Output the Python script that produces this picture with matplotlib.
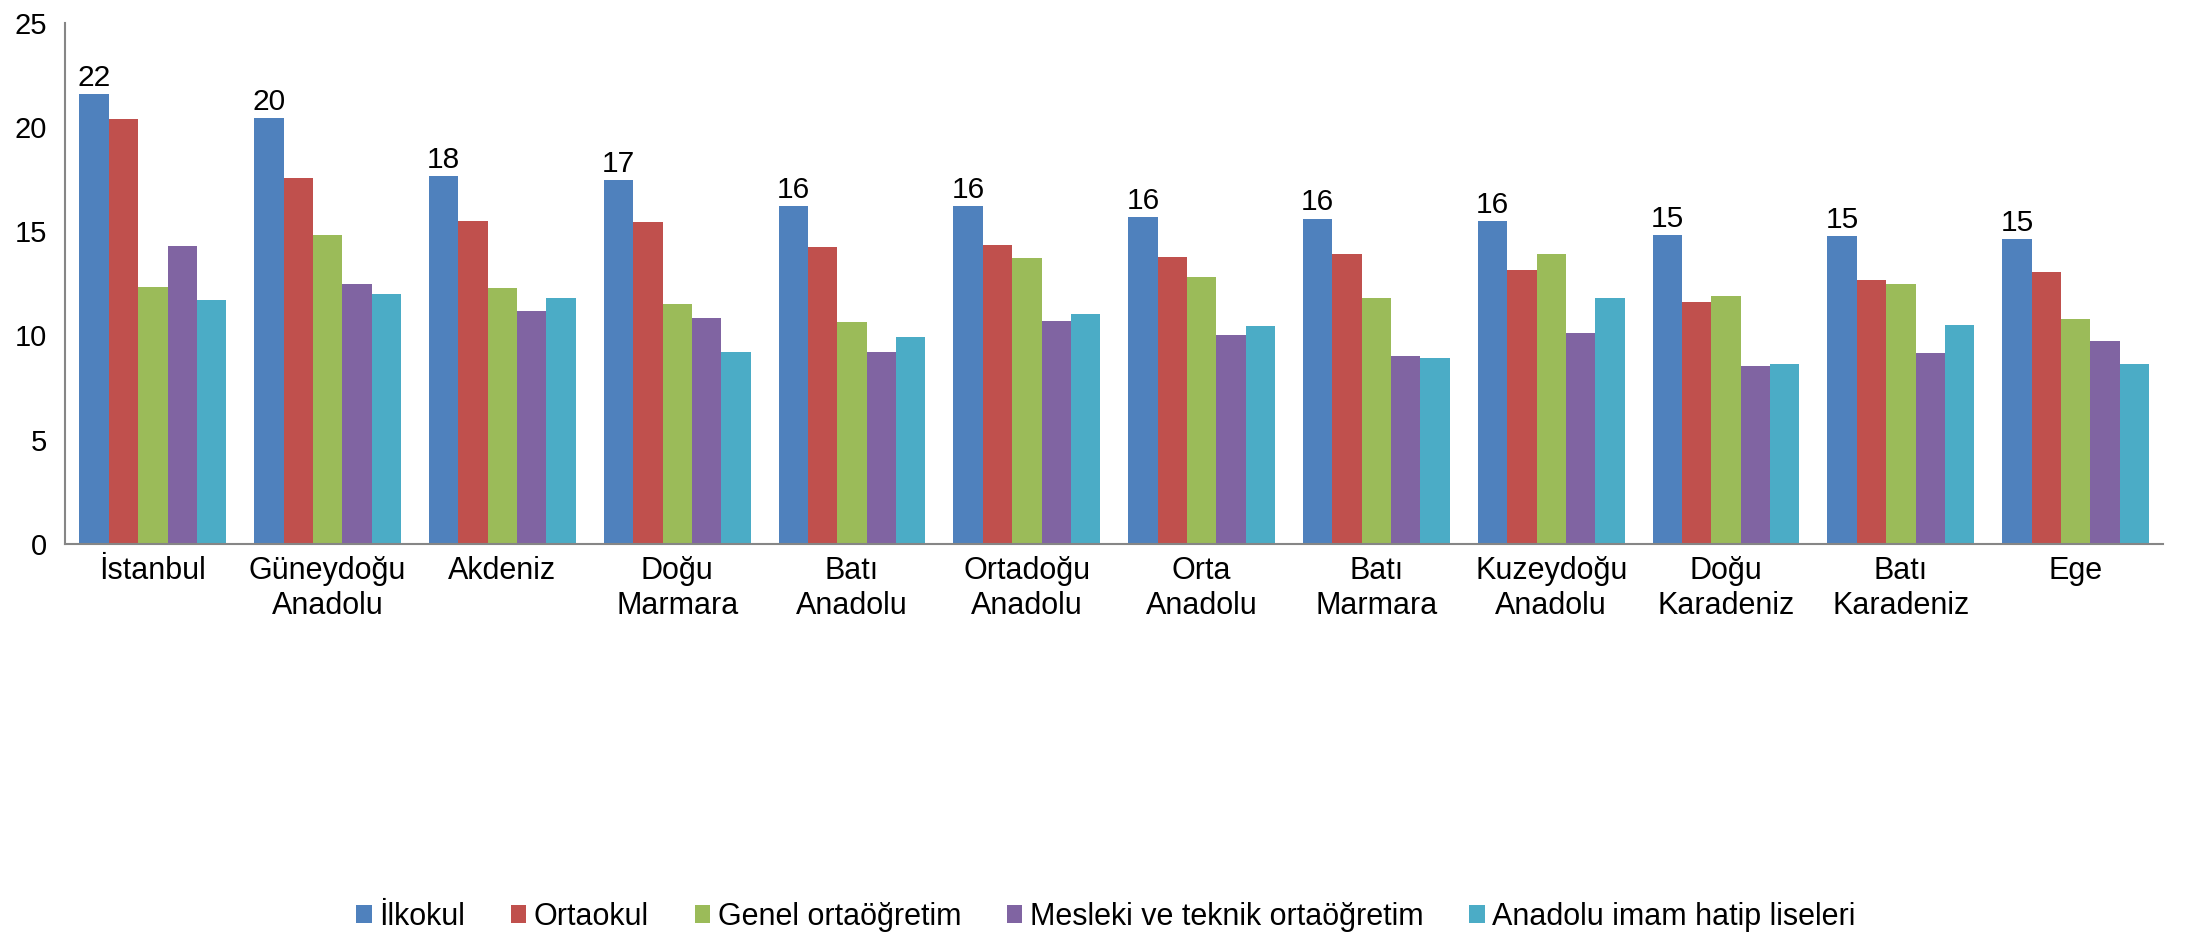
import numpy as np
import matplotlib.pyplot as plt

plt.rcParams['font.family'] = ['Liberation Sans', 'DejaVu Sans']

regions = ['İstanbul', 'Güneydoğu\nAnadolu', 'Akdeniz', 'Doğu\nMarmara', 'Batı\nAnadolu',
           'Ortadoğu\nAnadolu', 'Orta\nAnadolu', 'Batı\nMarmara', 'Kuzeydoğu\nAnadolu',
           'Doğu\nKaradeniz', 'Batı\nKaradeniz', 'Ege']
series_names = ['İlkokul', 'Ortaokul', 'Genel ortaöğretim',
                'Mesleki ve teknik ortaöğretim', 'Anadolu imam hatip liseleri']

ilkokul   = [21.57, 20.45, 17.66, 17.45, 16.20, 16.20, 15.68, 15.61, 15.51, 14.84, 14.76, 14.62]
ortaokul  = [20.37, 17.54, 15.48, 15.43, 14.24, 14.36, 13.76, 13.90, 13.16, 11.58, 12.65, 13.02]
genel     = [12.30, 14.84, 12.27, 11.53, 10.62, 13.73, 12.82, 11.79, 13.93, 11.87, 12.47, 10.79]
mesleki   = [14.28, 12.47, 11.19, 10.84,  9.21, 10.67, 10.04,  9.01, 10.11,  8.53,  9.16,  9.73]
imamhatip = [11.70, 11.99, 11.79,  9.21,  9.90, 11.02, 10.47,  8.91, 11.79,  8.61, 10.50,  8.65]

colors = ['#4F81BD', '#C0504D', '#9BBB59', '#8064A2', '#4BACC6']

fig = plt.figure(figsize=(21.88, 9.36), dpi=100)
ax = fig.add_axes([0.0299, 0.4192, 0.9587, 0.5562])

x = np.arange(len(regions))
w = 0.168
all_series = [ilkokul, ortaokul, genel, mesleki, imamhatip]
for i, vals in enumerate(all_series):
    bars = ax.bar(x + (i - 2) * w, vals, w, color=colors[i], label=series_names[i])
    if i == 0:
        # rounded value over the first bar of each group
        ax.bar_label(bars, labels=['%.0f' % v for v in vals], padding=1.5, fontsize=21.5)

ax.set_xlim(-0.5, len(regions) - 0.5)
ax.set_ylim(0, 25)
ax.set_yticks([0, 5, 10, 15, 20, 25])
ax.set_xticks(x)
ax.set_xticklabels(regions, fontsize=22)
ax.tick_params(axis='y', length=0, pad=13, labelsize=21)
ax.tick_params(axis='x', length=0, pad=9)

for s in ['top', 'right']:
    ax.spines[s].set_visible(False)
for s in ['left', 'bottom']:
    ax.spines[s].set_color('#868686')
    ax.spines[s].set_linewidth(1.5)

fig.legend(loc='center', bbox_to_anchor=(0.5055, 0.0203), ncol=5, frameon=False,
           fontsize=22, handlelength=0.5, handleheight=0.5, handletextpad=0.25,
           columnspacing=1.5)

fig.savefig('out.png', dpi=100)
